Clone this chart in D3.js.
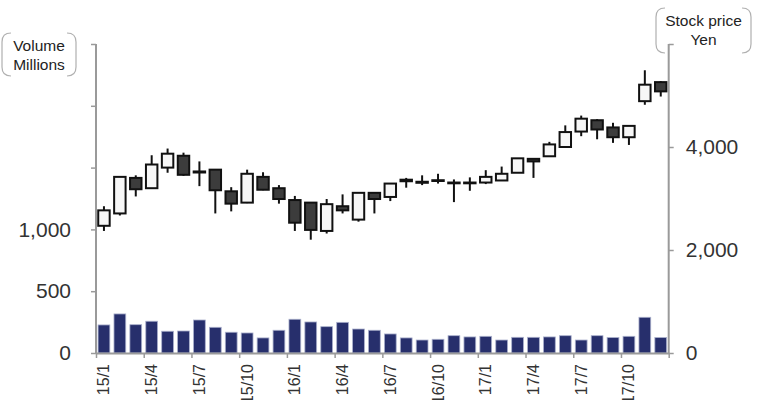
<!DOCTYPE html>
<html><head><meta charset="utf-8">
<script src="https://cdn.jsdelivr.net/npm/d3@7"></script>
<style>body{margin:0;background:#fff}svg{display:block}</style>
</head><body><svg id="c" width="763" height="400"></svg>
<script>
const months = ["15/1","15/2","15/3","15/4","15/5","15/6","15/7","15/8","15/9","15/10","15/11","15/12",
"16/1","16/2","16/3","16/4","16/5","16/6","16/7","16/8","16/9","16/10","16/11","16/12",
"17/1","17/2","17/3","17/4","17/5","17/6","17/7","17/8","17/9","17/10","17/11","17/12"];
const openP  = [2470,2710,3400,3200,3600,3830,3525,3560,3140,2920,3420,3200,2970,2920,2370,2850,2590,3110,3030,3365,3325,3355,3310,3310,3310,3350,3500,3770,3820,4000,4300,4520,4380,4190,4890,5260];
const highP  = [2850,3420,3450,3840,3970,3890,3720,3570,3220,3560,3510,3260,3050,2930,2990,3080,3110,3110,3290,3400,3450,3480,3370,3410,3550,3620,3780,3770,4100,4420,4610,4540,4470,4410,5490,5280];
const lowP   = [2370,2670,3040,3200,3500,3440,3240,2710,2750,2910,3160,2900,2370,2200,2320,2710,2550,2710,2950,3210,3260,3290,2930,3150,3280,3340,3500,3400,3820,4000,4210,4150,4080,4040,4820,4980];
const closeP = [2770,3420,3180,3660,3870,3460,3505,3160,2900,3480,3170,2990,2530,2390,2890,2770,3110,2990,3290,3335,3305,3340,3295,3295,3420,3480,3780,3720,4050,4290,4550,4340,4190,4410,5210,5080];
const volume = [227,316,229,257,176,178,267,208,168,162,122,184,273,251,213,248,194,184,154,122,105,111,140,130,135,105,127,127,130,140,105,140,125,135,289,125];
const volTicks = [0,500,1000,1500,2000,2500];
const volLabels = ["0","500","1,000","","",""];
const priceTicks = [0,2000,4000,6000];
const priceLabels = ["0","2,000","4,000",""];
const xTickMonths = ["15/1","15/4","15/7","15/10","16/1","16/4","16/7","16/10","17/1","17/4","17/7","17/10"];

const svg = d3.select("#c");
const L = 96, R = 668.7, T = 44, B = 353;
const x = d3.scaleBand().domain(months).range([L, R]).padding(0);
const yV = d3.scaleLinear().domain([0,2500]).range([B, T]);
const yP = d3.scaleLinear().domain([0,6000]).range([B, T]);
const bw = x.bandwidth();
const axisColor = "#9a9a9a";
const font = "'Liberation Sans', Arial, sans-serif";

// volume bars
svg.append("g").selectAll("rect").data(volume).join("rect")
  .attr("x", (d,i) => x(months[i]) + bw*0.13)
  .attr("width", bw*0.74)
  .attr("y", d => yV(d))
  .attr("height", d => B - yV(d))
  .attr("fill", "#272f6c")
  .attr("stroke", "#aab0cc").attr("stroke-width", 0.8);

// candles
const data = months.map((m,i) => ({m, o:openP[i], h:highP[i], l:lowP[i], c:closeP[i]}));
const cg = svg.append("g");
cg.selectAll("line").data(data).join("line")
  .attr("x1", d => x(d.m) + bw/2).attr("x2", d => x(d.m) + bw/2)
  .attr("y1", d => yP(d.h)).attr("y2", d => yP(d.l))
  .attr("stroke", "#111").attr("stroke-width", 2);
const cw = bw*0.72;
cg.selectAll("rect").data(data).join("rect")
  .attr("x", d => x(d.m) + (bw-cw)/2).attr("width", cw)
  .attr("y", d => yP(Math.max(d.o,d.c)))
  .attr("height", d => Math.max(0.5, Math.abs(yP(d.o)-yP(d.c))))
  .attr("fill", d => d.c >= d.o ? "#f7f7f7" : "#3c3c3c")
  .attr("stroke", "#111").attr("stroke-width", 2);

// left axis
const la = svg.append("g").attr("transform", `translate(${L},0)`)
  .call(d3.axisLeft(yV).tickValues(volTicks).tickFormat((d,i)=>volLabels[i]).tickSize(5).tickPadding(20));
// right axis
const ra = svg.append("g").attr("transform", `translate(${R},0)`)
  .call(d3.axisRight(yP).tickValues(priceTicks).tickFormat((d,i)=>priceLabels[i]).tickSize(5).tickPadding(12));
// bottom axis
const xt = d3.scaleLinear().domain([0, months.length]).range([L, R]);
const ba = svg.append("g").attr("transform", `translate(0,${B})`)
  .call(d3.axisBottom(xt).tickValues(d3.range(0, months.length+1, 3)).tickFormat("").tickSize(5).tickSizeOuter(0));
[la, ra, ba].forEach(g => {
  g.select(".domain").attr("stroke", axisColor).attr("stroke-width", 2);
  g.selectAll(".tick line").attr("stroke", axisColor).attr("stroke-width", 1.5);
  g.selectAll(".tick text").attr("fill", "#333").style("font-family", font).style("font-size", "21px");
});
la.select(".domain").attr("d", `M0,${T}V${B}`);
ra.select(".domain").attr("d", `M0,${T}V${B}`);

// x labels
svg.append("g").selectAll("text").data(xTickMonths).join("text")
  .attr("transform", d => `translate(${x(d)+bw/2+5.5},364) rotate(-90)`)
  .attr("text-anchor", "end")
  .style("font-family", font).style("font-size", "16px").attr("fill", "#333")
  .text(d => d);

// unit boxes
function bracketBox(x0, y0, x1, y1, lines, yb) {
  const r = 9, g = svg.append("g");
  g.append("path").attr("d", `M${x0+r},${y0} Q${x0},${y0} ${x0},${y0+r} V${y1-r} Q${x0},${y1} ${x0+r},${y1}`)
    .attr("fill","none").attr("stroke","#b0b0b0").attr("stroke-width",1.2);
  g.append("path").attr("d", `M${x1-r},${y0} Q${x1},${y0} ${x1},${y0+r} V${y1-r} Q${x1},${y1} ${x1-r},${y1}`)
    .attr("fill","none").attr("stroke","#b0b0b0").attr("stroke-width",1.2);
  g.selectAll("text").data(lines).join("text")
    .attr("x", (x0+x1)/2).attr("y", (d,i) => yb + i*19)
    .attr("text-anchor","middle")
    .style("font-family","'Liberation Sans', Arial, sans-serif").style("font-size","15.5px").attr("fill","#222")
    .text(d => d);
}
bracketBox(2, 33, 76, 76, ["Volume","Millions"], 51);
bracketBox(656, 8, 751, 53, ["Stock price","Yen"], 26);
</script></body></html>
